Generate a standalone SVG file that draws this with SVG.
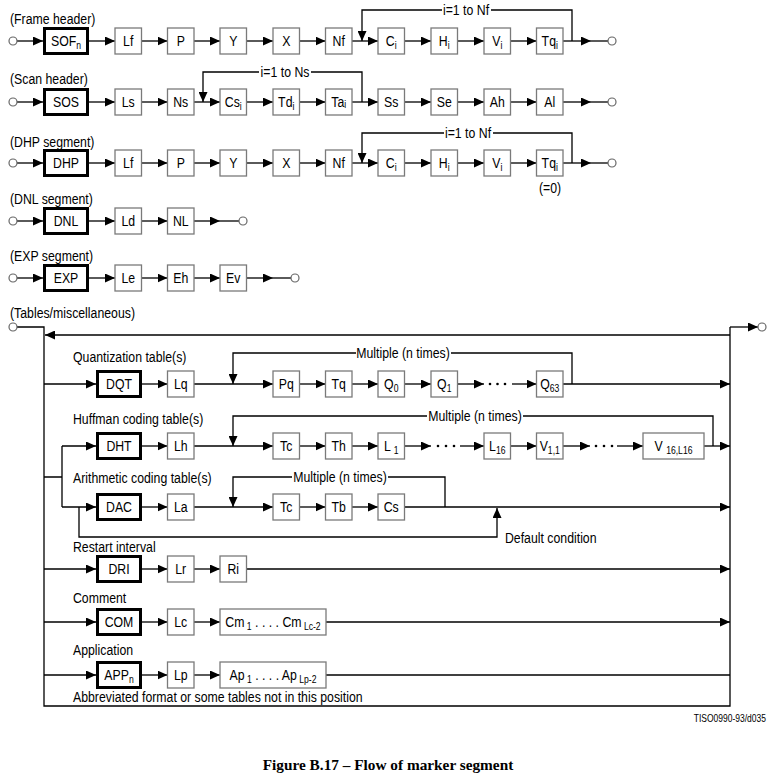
<svg xmlns="http://www.w3.org/2000/svg" width="784" height="779" viewBox="0 0 784 779">
<style>
.t{font-family:"Liberation Sans",Arial,sans-serif;font-size:15px;fill:#000}
.c{text-anchor:middle}
.s{font-size:10.5px}
.b{fill:#fff;stroke:#7a7a7a;stroke-width:1.3}
.k{fill:#fff;stroke:#000;stroke-width:3}
.ln{fill:none;stroke:#000;stroke-width:1.3}
.ar{marker-end:url(#a)}
.o{fill:#fff;stroke:#666;stroke-width:1.2}
.bg{fill:#fff;stroke:none}
.d{fill:#000}
</style>
<defs>
<marker id="a" viewBox="0 0 10 9" refX="10" refY="4.5" markerWidth="10" markerHeight="9" markerUnits="userSpaceOnUse" orient="auto"><path d="M0,0L10,4.5L0,9z" fill="#000"/></marker>
</defs>
<rect width="784" height="779" fill="#fff"/>

<g id="connectors">
<path class="ln ar" d="M17,41H43"/>
<path class="ln ar" d="M89,41H115"/>
<path class="ln ar" d="M141.5,41H167.5"/>
<path class="ln ar" d="M194,41H220"/>
<path class="ln ar" d="M246.5,41H273"/>
<path class="ln ar" d="M299.5,41H325.5"/>
<path class="ln ar" d="M352,41H378"/>
<path class="ln ar" d="M572,41V10H362V41"/>
<path class="ln ar" d="M404.5,41H431"/>
<path class="ln ar" d="M457.5,41H484"/>
<path class="ln ar" d="M510.5,41H536.5"/>
<path class="ln ar" d="M563,41H591"/>
<path class="ln" d="M591,41H608"/>
<path class="ln ar" d="M17,102H43"/>
<path class="ln ar" d="M89,102H115"/>
<path class="ln ar" d="M141.5,102H167.5"/>
<path class="ln ar" d="M194,102H220"/>
<path class="ln ar" d="M362,102V72H203V102"/>
<path class="ln ar" d="M246.5,102H273"/>
<path class="ln ar" d="M299.5,102H325.5"/>
<path class="ln ar" d="M352,102H378"/>
<path class="ln ar" d="M404.5,102H431"/>
<path class="ln ar" d="M457.5,102H484"/>
<path class="ln ar" d="M510.5,102H536.5"/>
<path class="ln ar" d="M563,102H591"/>
<path class="ln" d="M591,102H608"/>
<path class="ln ar" d="M17,163H43"/>
<path class="ln ar" d="M89,163H115"/>
<path class="ln ar" d="M141.5,163H167.5"/>
<path class="ln ar" d="M194,163H220"/>
<path class="ln ar" d="M246.5,163H273"/>
<path class="ln ar" d="M299.5,163H325.5"/>
<path class="ln ar" d="M352,163H378"/>
<path class="ln ar" d="M572,163V133H362V163"/>
<path class="ln ar" d="M404.5,163H431"/>
<path class="ln ar" d="M457.5,163H484"/>
<path class="ln ar" d="M510.5,163H536.5"/>
<path class="ln ar" d="M563,163H591"/>
<path class="ln" d="M591,163H608"/>
<path class="ln ar" d="M17,221H43"/>
<path class="ln ar" d="M89,221H115"/>
<path class="ln ar" d="M141.5,221H167.5"/>
<path class="ln ar" d="M194,221H220"/>
<path class="ln" d="M220,221H239"/>
<path class="ln ar" d="M17,278H43"/>
<path class="ln ar" d="M89,278H115"/>
<path class="ln ar" d="M141.5,278H167.5"/>
<path class="ln ar" d="M194,278H220"/>
<path class="ln ar" d="M246.5,278H273"/>
<path class="ln" d="M273,278H291"/>
<path class="ln" d="M17,327H44V706H730V327"/>
<path class="ln ar" d="M730,327H758"/>
<path class="ln ar" d="M730,335H45"/>
<path class="ln ar" d="M44,384H96"/>
<path class="ln ar" d="M142,384H167.5"/>
<path class="ln ar" d="M194,384H273"/>
<path class="ln ar" d="M572,384V353H233V384"/>
<path class="ln ar" d="M299.5,384H325.5"/>
<path class="ln ar" d="M352,384H378"/>
<path class="ln ar" d="M404.5,384H431"/>
<path class="ln ar" d="M457.5,384H484"/>
<path class="ln ar" d="M512,384H536.5"/>
<path class="ln ar" d="M563,384H730"/>
<path class="ln" d="M44,477H62M62,446V507"/>
<path class="ln ar" d="M62,446H96"/>
<path class="ln ar" d="M142,446H167.5"/>
<path class="ln ar" d="M194,446H273"/>
<path class="ln ar" d="M713,446V416H233V446"/>
<path class="ln ar" d="M299.5,446H325.5"/>
<path class="ln ar" d="M352,446H378"/>
<path class="ln ar" d="M404.5,446H431"/>
<path class="ln ar" d="M460,446H484"/>
<path class="ln ar" d="M510.5,446H536.5"/>
<path class="ln ar" d="M563,446H590"/>
<path class="ln ar" d="M617,446H643"/>
<path class="ln ar" d="M704,446H730"/>
<path class="ln ar" d="M62,507H96"/>
<path class="ln ar" d="M142,507H167.5"/>
<path class="ln ar" d="M194,507H273"/>
<path class="ln ar" d="M445,507V477H233V507"/>
<path class="ln ar" d="M299.5,507H325.5"/>
<path class="ln ar" d="M352,507H378"/>
<path class="ln ar" d="M404.5,507H730"/>
<path class="ln ar" d="M79,507V537H497V508"/>
<path class="ln ar" d="M44,569H96"/>
<path class="ln ar" d="M142,569H167.5"/>
<path class="ln ar" d="M194,569H220"/>
<path class="ln ar" d="M246.5,569H730"/>
<path class="ln ar" d="M44,622H96"/>
<path class="ln ar" d="M142,622H167.5"/>
<path class="ln ar" d="M194,622H220"/>
<path class="ln ar" d="M326,622H730"/>
<path class="ln ar" d="M44,675H96"/>
<path class="ln ar" d="M142,675H167.5"/>
<path class="ln ar" d="M194,675H220"/>
<path class="ln" d="M326,675H730"/>
<circle class="d" cx="490" cy="384" r="1.3"/><circle class="d" cx="497.5" cy="384" r="1.3"/><circle class="d" cx="505" cy="384" r="1.3"/>
<circle class="d" cx="438" cy="446" r="1.3"/><circle class="d" cx="446" cy="446" r="1.3"/><circle class="d" cx="454" cy="446" r="1.3"/>
<circle class="d" cx="596" cy="446" r="1.3"/><circle class="d" cx="604" cy="446" r="1.3"/><circle class="d" cx="612" cy="446" r="1.3"/>
<rect class="bg" x="442" y="3" width="49" height="14"/>
<rect class="bg" x="259" y="65" width="52" height="14"/>
<rect class="bg" x="444" y="126" width="49" height="14"/>
<rect class="bg" x="356" y="346" width="95" height="14"/>
<rect class="bg" x="427" y="409" width="96" height="14"/>
<rect class="bg" x="292" y="470" width="96" height="14"/>
<text class="t c" transform="translate(466,15) scale(.82,1)">i=1 to Nf</text>
<text class="t c" transform="translate(285,77) scale(.82,1)">i=1 to Ns</text>
<text class="t c" transform="translate(468,138) scale(.82,1)">i=1 to Nf</text>
<text class="t c" transform="translate(403,358) scale(.82,1)">Multiple (n times)</text>
<text class="t c" transform="translate(475,421) scale(.82,1)">Multiple (n times)</text>
<text class="t c" transform="translate(340,482) scale(.82,1)">Multiple (n times)</text>
</g>

<g id="terminals">
<circle class="o" cx="13" cy="41" r="4"/><circle class="o" cx="612" cy="41" r="4"/>
<circle class="o" cx="13" cy="102" r="4"/><circle class="o" cx="612" cy="102" r="4"/>
<circle class="o" cx="13" cy="163" r="4"/><circle class="o" cx="612" cy="163" r="4"/>
<circle class="o" cx="13" cy="221" r="4"/><circle class="o" cx="243" cy="221" r="4"/>
<circle class="o" cx="13" cy="278" r="4"/><circle class="o" cx="295" cy="278" r="4"/>
<circle class="o" cx="13" cy="327" r="4"/><circle class="o" cx="762" cy="327" r="4"/>
</g>

<g id="labels">
<text class="t" transform="translate(10,24) scale(.82,1)">(Frame header)</text>
<text class="t" transform="translate(10,84) scale(.82,1)">(Scan header)</text>
<text class="t" transform="translate(10,147) scale(.82,1)">(DHP segment)</text>
<text class="t" transform="translate(10,204) scale(.82,1)">(DNL segment)</text>
<text class="t" transform="translate(10,261) scale(.82,1)">(EXP segment)</text>
<text class="t" transform="translate(10,318) scale(.82,1)">(Tables/miscellaneous)</text>
<text class="t" transform="translate(73,362) scale(.82,1)">Quantization table(s)</text>
<text class="t" transform="translate(73,424) scale(.82,1)">Huffman coding table(s)</text>
<text class="t" transform="translate(73,483) scale(.82,1)">Arithmetic coding table(s)</text>
<text class="t" transform="translate(73,552) scale(.82,1)">Restart interval</text>
<text class="t" transform="translate(73,603) scale(.82,1)">Comment</text>
<text class="t" transform="translate(73,655) scale(.82,1)">Application</text>
<text class="t" transform="translate(73,702) scale(.82,1)">Abbreviated format or some tables not in this position</text>
<text class="t" transform="translate(505,543) scale(.82,1)">Default condition</text>
<text class="t c" transform="translate(550,193) scale(.82,1)">(=0)</text>
<text transform="translate(766,722) scale(.85,1)" text-anchor="end" style="font-family:'Liberation Sans',sans-serif;font-size:10px">TISO0990-93/d035</text>
<text x="388" y="770" text-anchor="middle" style="font-family:'Liberation Serif','Times New Roman',serif;font-size:15.3px;font-weight:bold">Figure B.17 – Flow of marker segment</text>
</g>

<g id="f-sof"><rect class="k" x="44.5" y="28.5" width="43" height="25"/><text class="t c" transform="translate(66,46) scale(.82,1)">SOF<tspan class="s" dy="3">n</tspan></text></g>
<g id="f-lf"><rect class="b" x="115" y="28" width="26.5" height="26"/><text class="t c" transform="translate(128.25,46) scale(.82,1)">Lf</text></g>
<g id="f-p"><rect class="b" x="167.5" y="28" width="26.5" height="26"/><text class="t c" transform="translate(180.75,46) scale(.82,1)">P</text></g>
<g id="f-y"><rect class="b" x="220" y="28" width="26.5" height="26"/><text class="t c" transform="translate(233.25,46) scale(.82,1)">Y</text></g>
<g id="f-x"><rect class="b" x="273" y="28" width="26.5" height="26"/><text class="t c" transform="translate(286.25,46) scale(.82,1)">X</text></g>
<g id="f-nf"><rect class="b" x="325.5" y="28" width="26.5" height="26"/><text class="t c" transform="translate(338.75,46) scale(.82,1)">Nf</text></g>
<g id="f-c"><rect class="b" x="378" y="28" width="26.5" height="26"/><text class="t c" transform="translate(391.25,46) scale(.82,1)">C<tspan class="s" dy="3">i</tspan></text></g>
<g id="f-h"><rect class="b" x="431" y="28" width="26.5" height="26"/><text class="t c" transform="translate(444.25,46) scale(.82,1)">H<tspan class="s" dy="3">i</tspan></text></g>
<g id="f-v"><rect class="b" x="484" y="28" width="26.5" height="26"/><text class="t c" transform="translate(497.25,46) scale(.82,1)">V<tspan class="s" dy="3">i</tspan></text></g>
<g id="f-tq"><rect class="b" x="536.5" y="28" width="26.5" height="26"/><text class="t c" transform="translate(549.75,46) scale(.82,1)">Tq<tspan class="s" dy="3">i</tspan></text></g>

<g id="s-sos"><rect class="k" x="44.5" y="89.5" width="43" height="25"/><text class="t c" transform="translate(66,107) scale(.82,1)">SOS</text></g>
<g id="s-ls"><rect class="b" x="115" y="89" width="26.5" height="26"/><text class="t c" transform="translate(128.25,107) scale(.82,1)">Ls</text></g>
<g id="s-ns"><rect class="b" x="167.5" y="89" width="26.5" height="26"/><text class="t c" transform="translate(180.75,107) scale(.82,1)">Ns</text></g>
<g id="s-cs"><rect class="b" x="220" y="89" width="26.5" height="26"/><text class="t c" transform="translate(233.25,107) scale(.82,1)">Cs<tspan class="s" dy="3">i</tspan></text></g>
<g id="s-td"><rect class="b" x="273" y="89" width="26.5" height="26"/><text class="t c" transform="translate(286.25,107) scale(.82,1)">Td<tspan class="s" dy="3">i</tspan></text></g>
<g id="s-ta"><rect class="b" x="325.5" y="89" width="26.5" height="26"/><text class="t c" transform="translate(338.75,107) scale(.82,1)">Ta<tspan class="s" dy="1">i</tspan></text></g>
<g id="s-ss"><rect class="b" x="378" y="89" width="26.5" height="26"/><text class="t c" transform="translate(391.25,107) scale(.82,1)">Ss</text></g>
<g id="s-se"><rect class="b" x="431" y="89" width="26.5" height="26"/><text class="t c" transform="translate(444.25,107) scale(.82,1)">Se</text></g>
<g id="s-ah"><rect class="b" x="484" y="89" width="26.5" height="26"/><text class="t c" transform="translate(497.25,107) scale(.82,1)">Ah</text></g>
<g id="s-al"><rect class="b" x="536.5" y="89" width="26.5" height="26"/><text class="t c" transform="translate(549.75,107) scale(.82,1)">Al</text></g>

<g id="d-dhp"><rect class="k" x="44.5" y="150.5" width="43" height="25"/><text class="t c" transform="translate(66,168) scale(.82,1)">DHP</text></g>
<g id="d-lf"><rect class="b" x="115" y="150" width="26.5" height="26"/><text class="t c" transform="translate(128.25,168) scale(.82,1)">Lf</text></g>
<g id="d-p"><rect class="b" x="167.5" y="150" width="26.5" height="26"/><text class="t c" transform="translate(180.75,168) scale(.82,1)">P</text></g>
<g id="d-y"><rect class="b" x="220" y="150" width="26.5" height="26"/><text class="t c" transform="translate(233.25,168) scale(.82,1)">Y</text></g>
<g id="d-x"><rect class="b" x="273" y="150" width="26.5" height="26"/><text class="t c" transform="translate(286.25,168) scale(.82,1)">X</text></g>
<g id="d-nf"><rect class="b" x="325.5" y="150" width="26.5" height="26"/><text class="t c" transform="translate(338.75,168) scale(.82,1)">Nf</text></g>
<g id="d-c"><rect class="b" x="378" y="150" width="26.5" height="26"/><text class="t c" transform="translate(391.25,168) scale(.82,1)">C<tspan class="s" dy="3">i</tspan></text></g>
<g id="d-h"><rect class="b" x="431" y="150" width="26.5" height="26"/><text class="t c" transform="translate(444.25,168) scale(.82,1)">H<tspan class="s" dy="3">i</tspan></text></g>
<g id="d-v"><rect class="b" x="484" y="150" width="26.5" height="26"/><text class="t c" transform="translate(497.25,168) scale(.82,1)">V<tspan class="s" dy="3">i</tspan></text></g>
<g id="d-tq"><rect class="b" x="536.5" y="150" width="26.5" height="26"/><text class="t c" transform="translate(549.75,168) scale(.82,1)">Tq<tspan class="s" dy="3">i</tspan></text></g>

<g id="n-dnl"><rect class="k" x="44.5" y="208.5" width="43" height="25"/><text class="t c" transform="translate(66,226) scale(.82,1)">DNL</text></g>
<g id="n-ld"><rect class="b" x="115" y="208" width="26.5" height="26"/><text class="t c" transform="translate(128.25,226) scale(.82,1)">Ld</text></g>
<g id="n-nl"><rect class="b" x="167.5" y="208" width="26.5" height="26"/><text class="t c" transform="translate(180.75,226) scale(.82,1)">NL</text></g>

<g id="e-exp"><rect class="k" x="44.5" y="265.5" width="43" height="25"/><text class="t c" transform="translate(66,283) scale(.82,1)">EXP</text></g>
<g id="e-le"><rect class="b" x="115" y="265" width="26.5" height="26"/><text class="t c" transform="translate(128.25,283) scale(.82,1)">Le</text></g>
<g id="e-eh"><rect class="b" x="167.5" y="265" width="26.5" height="26"/><text class="t c" transform="translate(180.75,283) scale(.82,1)">Eh</text></g>
<g id="e-ev"><rect class="b" x="220" y="265" width="26.5" height="26"/><text class="t c" transform="translate(233.25,283) scale(.82,1)">Ev</text></g>

<g id="q-dqt"><rect class="k" x="97.5" y="371.5" width="43" height="25"/><text class="t c" transform="translate(119,389) scale(.82,1)">DQT</text></g>
<g id="q-lq"><rect class="b" x="167.5" y="371" width="26.5" height="26"/><text class="t c" transform="translate(180.75,389) scale(.82,1)">Lq</text></g>
<g id="q-pq"><rect class="b" x="273" y="371" width="26.5" height="26"/><text class="t c" transform="translate(286.25,389) scale(.82,1)">Pq</text></g>
<g id="q-tq"><rect class="b" x="325.5" y="371" width="26.5" height="26"/><text class="t c" transform="translate(338.75,389) scale(.82,1)">Tq</text></g>
<g id="q-q0"><rect class="b" x="378" y="371" width="26.5" height="26"/><text class="t c" transform="translate(391.25,389) scale(.82,1)">Q<tspan class="s" dy="3">0</tspan></text></g>
<g id="q-q1"><rect class="b" x="431" y="371" width="26.5" height="26"/><text class="t c" transform="translate(444.25,389) scale(.82,1)">Q<tspan class="s" dy="3">1</tspan></text></g>
<g id="q-q63"><rect class="b" x="536.5" y="371" width="26.5" height="26"/><text class="t c" transform="translate(549.75,389) scale(.82,1)">Q<tspan class="s" dy="3">63</tspan></text></g>

<g id="h-dht"><rect class="k" x="97.5" y="433.5" width="43" height="25"/><text class="t c" transform="translate(119,451) scale(.82,1)">DHT</text></g>
<g id="h-lh"><rect class="b" x="167.5" y="433" width="26.5" height="26"/><text class="t c" transform="translate(180.75,451) scale(.82,1)">Lh</text></g>
<g id="h-tc"><rect class="b" x="273" y="433" width="26.5" height="26"/><text class="t c" transform="translate(286.25,451) scale(.82,1)">Tc</text></g>
<g id="h-th"><rect class="b" x="325.5" y="433" width="26.5" height="26"/><text class="t c" transform="translate(338.75,451) scale(.82,1)">Th</text></g>
<g id="h-l1"><rect class="b" x="378" y="433" width="26.5" height="26"/><text class="t c" transform="translate(391.25,451) scale(.82,1)">L <tspan class="s" dy="3">1</tspan></text></g>
<g id="h-l16"><rect class="b" x="484" y="433" width="26.5" height="26"/><text class="t c" transform="translate(497.25,451) scale(.82,1)">L<tspan class="s" dy="3">16</tspan></text></g>
<g id="h-v11"><rect class="b" x="536.5" y="433" width="26.5" height="26"/><text class="t c" transform="translate(549.75,451) scale(.82,1)">V<tspan class="s" dy="3">1,1</tspan></text></g>
<g id="h-v16"><rect class="b" x="643" y="433" width="61" height="26"/><text class="t c" transform="translate(673.5,451) scale(.82,1)">V <tspan class="s" dy="3">16,L16</tspan></text></g>

<g id="a-dac"><rect class="k" x="97.5" y="494.5" width="43" height="25"/><text class="t c" transform="translate(119,512) scale(.82,1)">DAC</text></g>
<g id="a-la"><rect class="b" x="167.5" y="494" width="26.5" height="26"/><text class="t c" transform="translate(180.75,512) scale(.82,1)">La</text></g>
<g id="a-tc"><rect class="b" x="273" y="494" width="26.5" height="26"/><text class="t c" transform="translate(286.25,512) scale(.82,1)">Tc</text></g>
<g id="a-tb"><rect class="b" x="325.5" y="494" width="26.5" height="26"/><text class="t c" transform="translate(338.75,512) scale(.82,1)">Tb</text></g>
<g id="a-cs"><rect class="b" x="378" y="494" width="26.5" height="26"/><text class="t c" transform="translate(391.25,512) scale(.82,1)">Cs</text></g>

<g id="r-dri"><rect class="k" x="97.5" y="556.5" width="43" height="25"/><text class="t c" transform="translate(119,574) scale(.82,1)">DRI</text></g>
<g id="r-lr"><rect class="b" x="167.5" y="556" width="26.5" height="26"/><text class="t c" transform="translate(180.75,574) scale(.82,1)">Lr</text></g>
<g id="r-ri"><rect class="b" x="220" y="556" width="26.5" height="26"/><text class="t c" transform="translate(233.25,574) scale(.82,1)">Ri</text></g>

<g id="c-com"><rect class="k" x="97.5" y="609.5" width="43" height="25"/><text class="t c" transform="translate(119,627) scale(.82,1)">COM</text></g>
<g id="c-lc"><rect class="b" x="167.5" y="609" width="26.5" height="26"/><text class="t c" transform="translate(180.75,627) scale(.82,1)">Lc</text></g>
<g id="c-cm"><rect class="b" x="220" y="609" width="106" height="26"/><text class="t c" transform="translate(273,627) scale(.82,1)">Cm<tspan class="s" dy="3"> 1</tspan><tspan dy="-3"> . . . . Cm</tspan><tspan class="s" dy="3"> Lc-2</tspan></text></g>

<g id="p-app"><rect class="k" x="97.5" y="662.5" width="43" height="25"/><text class="t c" transform="translate(119,680) scale(.82,1)">APP<tspan class="s" dy="3">n</tspan></text></g>
<g id="p-lp"><rect class="b" x="167.5" y="662" width="26.5" height="26"/><text class="t c" transform="translate(180.75,680) scale(.82,1)">Lp</text></g>
<g id="p-ap"><rect class="b" x="220" y="662" width="106" height="26"/><text class="t c" transform="translate(273,680) scale(.82,1)">Ap<tspan class="s" dy="3"> 1</tspan><tspan dy="-3"> . . . . Ap</tspan><tspan class="s" dy="3"> Lp-2</tspan></text></g>
</svg>
